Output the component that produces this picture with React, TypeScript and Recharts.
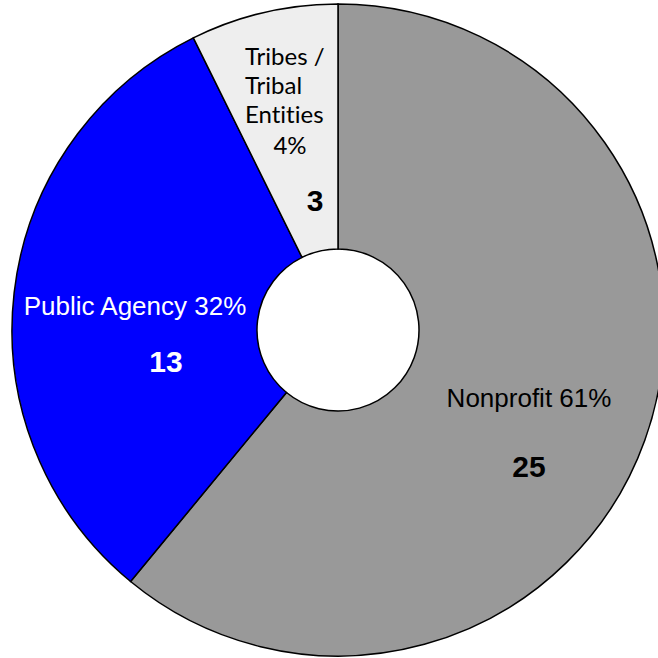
import React from "react";
import { PieChart, Pie, Cell } from "recharts";

const categories = ["Nonprofit", "Public Agency", "Tribes / Tribal Entities"];
const counts = [25, 13, 3];
const percentLabels = ["61%", "32%", "4%"];

const colors = ["#999999", "#0000ff", "#eeeeee"];

const data = categories.map((name, i) => ({ name, value: counts[i], pct: percentLabels[i] }));

const ARIAL = "'Liberation Sans', Arial, sans-serif";
const AVENIR = "Lato, 'Noto Sans', sans-serif";

const renderLabel = (props: any) => {
  const { cx, cy, index } = props;
  const d = data[index];
  if (index === 0) {
    return (
      <g>
        <text x={cx + 191} y={cy + 77} textAnchor="middle" fontFamily={ARIAL} fontSize={26} fill="#000">
          {d.name} {d.pct}
        </text>
        <text x={cx + 191} y={cy + 147} textAnchor="middle" fontFamily={ARIAL} fontWeight="bold" fontSize={30} fill="#000">
          {d.value}
        </text>
      </g>
    );
  }
  if (index === 1) {
    return (
      <g>
        <text x={cx - 203} y={cy - 15} textAnchor="middle" fontFamily={ARIAL} fontSize={26} fill="#fff">
          {d.name} {d.pct}
        </text>
        <text x={cx - 172} y={cy + 42} textAnchor="middle" fontFamily={ARIAL} fontWeight="bold" fontSize={30} fill="#fff">
          {d.value}
        </text>
      </g>
    );
  }
  // tribes label wraps on three lines
  const lines = ["Tribes /", "Tribal", "Entities"];
  return (
    <g style={{ fontVariantLigatures: "none" }}>
      {lines.map((l, i) => (
        <text key={l} x={cx - 93} y={cy - 265 + i * 29} fontFamily={AVENIR} fontSize={24} fill="#000">
          {l}
        </text>
      ))}
      <text x={cx - 48} y={cy - 176} textAnchor="middle" fontFamily={AVENIR} fontSize={24} fill="#000">
        {d.pct}
      </text>
      <text x={cx - 23} y={cy - 119} textAnchor="middle" fontFamily={ARIAL} fontWeight="bold" fontSize={30} fill="#000">
        {d.value}
      </text>
    </g>
  );
};

export default function App() {
  return (
    <div style={{ position: "absolute", left: 0, top: 0 }}>
      <PieChart width={658} height={658} margin={{ top: 0, right: 0, bottom: 0, left: 0 }}>
        <Pie
          data={data}
          dataKey="value"
          nameKey="name"
          cx={338}
          cy={330}
          innerRadius={81}
          outerRadius={326}
          startAngle={90}
          endAngle={-270}
          stroke="#000"
          strokeWidth={1.5}
          label={renderLabel}
          labelLine={false}
          isAnimationActive={false}
        >
          {data.map((d, i) => (
            <Cell key={d.name} fill={colors[i]} />
          ))}
        </Pie>
      </PieChart>
    </div>
  );
}
